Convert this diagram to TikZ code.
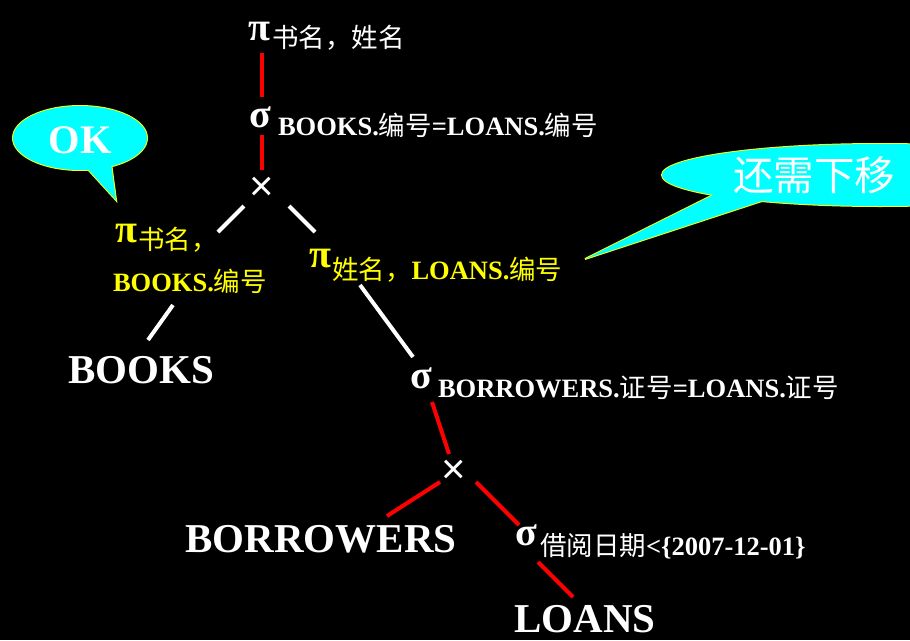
\documentclass[tikz,border=0pt]{standalone}
\usepackage{fontspec}
\setmainfont{Liberation Serif}
\newfontfamily\cjk{Noto Sans CJK SC}
\newfontfamily\symf{Liberation Sans}
\usetikzlibrary{calc}
\definecolor{bcyan}{RGB}{0,255,255}
\definecolor{byellow}{RGB}{255,255,0}
\definecolor{bred}{RGB}{255,0,0}
\newcommand\cj[1]{{\cjk #1}}
\newcommand\fsz[1]{\fontsize{#1}{#1}\selectfont}
\begin{document}
\begin{tikzpicture}[x=1pt,y=-1pt,
  basic/.style={inner sep=0pt,outer sep=0pt,text=white},
  greek/.style={basic,anchor=base,font=\bfseries\fsz{40}},
  subl/.style={basic,anchor=base west,font=\fsz{26.5}},
  rel/.style={basic,anchor=base,font=\bfseries\fsz{41}},
  times/.style={basic,anchor=center,font=\symf\fsz{42}},
  yel/.style={text=byellow},
  redl/.style={draw=bred,line width=4pt},
  whl/.style={draw=white,line width=4pt},
  bubline/.style={draw=byellow,line width=2pt},
  bubfill/.style={fill=bcyan}]
\useasboundingbox (0,0) rectangle (910,640);
\fill[black] (0,0) rectangle (910,640);

% bubbles
\path[bubline] (80,138) ellipse [x radius=67pt, y radius=32pt];
\path[bubline] (84,165) -- (116,200) -- (111,163);
\path[bubfill] (80,138) ellipse [x radius=67pt, y radius=32pt];
\path[bubfill] (84,165) -- (116,200) -- (111,163) -- cycle;
\path[bubline] (880,175) ellipse [x radius=218pt, y radius=31pt];
\path[bubline] (717,193) -- (585,259) -- (768,199);
\path[bubfill] (880,175) ellipse [x radius=218pt, y radius=31pt];
\path[bubfill] (717,193) -- (585,259) -- (768,199) -- cycle;
\node[basic,anchor=base,font=\bfseries\fsz{40.5}] (ok) at (80.5,153) {OK};
\node[basic,anchor=base west,font=\cjk\fsz{40.5}] (move) at (733,190) {还需下移};

% operator symbols
\node[greek] (gp1) at (259,40) {π};
\node[greek] (gs1) at (260,127) {σ};
\node[times] (gx1) at (262,189) {×};
\node[greek,yel] (gpl) at (126,242) {π};
\node[greek,yel] (gpr) at (320,267) {π};
\node[greek] (gs2) at (421,388) {σ};
\node[times] (gx2) at (454,472) {×};
\node[greek] (gs3) at (526,545) {σ};

% subscripts
\node[subl] (s1) at (272,47) {\cj{书名，姓名}};
\node[subl] (s2) at (278,135) {\textbf{BOOKS.}\cj{编号}\textbf{=LOANS.}\cj{编号}};
\node[subl,yel] (yl1) at (138,249) {\cj{书名，}};
\node[subl,yel] (yl2) at (113,291) {\textbf{BOOKS.}\cj{编号}};
\node[subl,yel] (yr) at (332,279) {\cj{姓名，}\textbf{LOANS.}\cj{编号}};
\node[subl] (s3) at (438,397) {\textbf{BORROWERS.}\cj{证号}\textbf{=LOANS.}\cj{证号}};
\node[subl] (s4) at (540,555) {\cj{借阅日期}\textbf{<\{2007-12-01\}}};

% relations
\node[rel] (books) at (141,383) {BOOKS};
\node[rel] (borr) at (321,552) {BORROWERS};
\node[rel] (loans) at (585,632) {LOANS};

% connectors
\draw[redl] ($(gp1.base)+(3,13)$) -- ($(gs1.base)+(2,-30)$);
\draw[redl] ($(gs1.base)+(2,8)$) -- ($(gx1.center)+(0,-19)$);
\draw[whl] ($(gx1.center)+(-18,17)$) -- ($(gpl.base)+(92,-10)$);
\draw[whl] ($(gx1.center)+(27,17)$) -- ($(gpr.base)+(-5,-35)$);
\draw[whl] ($(yl2.base west)+(60,14)$) -- ($(books.base)+(7,-43)$);
\draw[whl] ($(yr.base west)+(28,6)$) -- ($(gs2.base)+(-8,-31)$);
\draw[redl] ($(gs2.base)+(11,14)$) -- ($(gx2.center)+(-5,-18)$);
\draw[redl] ($(gx2.center)+(-14,10)$) -- ($(borr.base)+(66,-36)$);
\draw[redl] ($(gx2.center)+(22,10)$) -- ($(gs3.base)+(-7,-20)$);
\draw[redl] ($(gs3.base)+(12,17)$) -- ($(loans.base)+(-12,-35)$);
\end{tikzpicture}
\end{document}
